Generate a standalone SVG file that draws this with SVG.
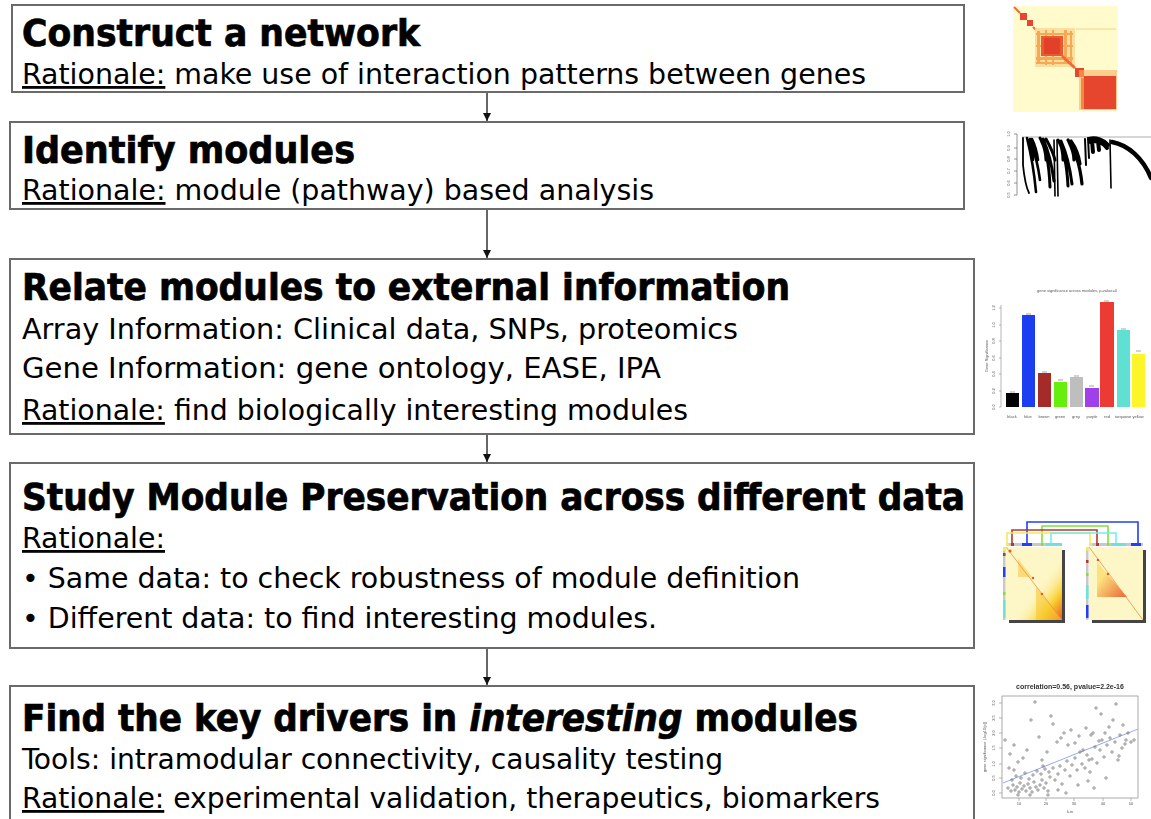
<svg xmlns="http://www.w3.org/2000/svg" width="1151" height="819" viewBox="0 0 1151 819">
  <style>
    .box { fill: #ffffff; stroke: #6a6a6a; stroke-width: 2; }
    .title { font-family: "DejaVu Sans Condensed", "DejaVu Sans", sans-serif; font-weight: bold; font-size: 38px; fill: #000; stroke: #000; stroke-width: 0.7; }
    .body { font-family: "DejaVu Sans Condensed", "DejaVu Sans", sans-serif; font-size: 28px; fill: #000; }
    .ul { text-decoration: underline; }
    .conn { stroke: #333; stroke-width: 1.5; fill: none; }
    .tiny { font-family: "Liberation Sans", Arial, sans-serif; font-size: 4px; fill: #555; stroke: none; }
    .pt { fill: none; stroke: #666; stroke-width: 0.7; }
    .br { fill: none; stroke: #000; stroke-linecap: round; }
  </style>
  <defs>
    <marker id="ah" viewBox="0 0 10 10" refX="10" refY="5" markerWidth="8" markerHeight="8" markerUnits="userSpaceOnUse" orient="auto">
      <path d="M0,0 L10,5 L0,10 Z" fill="#111"/>
    </marker>
    <filter id="soft" x="-5%" y="-5%" width="110%" height="110%">
      <feGaussianBlur stdDeviation="0.6"/>
    </filter>
    <linearGradient id="hmL" x1="0" y1="0" x2="1" y2="1">
      <stop offset="0.55" stop-color="#fdf6c0" stop-opacity="0"/>
      <stop offset="0.8" stop-color="#f9d030"/>
      <stop offset="1" stop-color="#e85a20"/>
    </linearGradient>
    <linearGradient id="hmR" x1="0" y1="0" x2="1" y2="1">
      <stop offset="0.3" stop-color="#fbe070"/>
      <stop offset="1" stop-color="#e84a20"/>
    </linearGradient>
  </defs>

  <!-- arrows between steps -->
  <g id="connectors">
    <line class="conn" x1="487" y1="93" x2="487" y2="121" marker-end="url(#ah)"/>
    <line class="conn" x1="487" y1="210" x2="487" y2="258" marker-end="url(#ah)"/>
    <line class="conn" x1="487" y1="435" x2="487" y2="462" marker-end="url(#ah)"/>
    <line class="conn" x1="487" y1="649" x2="487" y2="685" marker-end="url(#ah)"/>
  </g>

  <g id="step-network">
    <rect class="box" x="12" y="5" width="952" height="87"/>
    <text class="title" x="22" y="46" textLength="398" lengthAdjust="spacingAndGlyphs">Construct a network</text>
    <text class="body" x="22" y="84" textLength="844" lengthAdjust="spacingAndGlyphs"><tspan class="ul">Rationale:</tspan> make use of interaction patterns between genes</text>
  </g>

  <g id="step-modules">
    <rect class="box" x="10" y="122" width="954" height="87"/>
    <text class="title" x="22" y="163" textLength="333" lengthAdjust="spacingAndGlyphs">Identify modules</text>
    <text class="body" x="22" y="200" textLength="632" lengthAdjust="spacingAndGlyphs"><tspan class="ul">Rationale:</tspan> module (pathway) based analysis</text>
  </g>

  <g id="step-external">
    <rect class="box" x="10" y="259" width="964" height="175"/>
    <text class="title" x="22" y="300" textLength="768" lengthAdjust="spacingAndGlyphs">Relate modules to external information</text>
    <text class="body" x="22" y="339" textLength="716" lengthAdjust="spacingAndGlyphs">Array Information: Clinical data, SNPs, proteomics</text>
    <text class="body" x="22" y="378" textLength="639" lengthAdjust="spacingAndGlyphs">Gene Information: gene ontology, EASE, IPA</text>
    <text class="body" x="22" y="420" textLength="666" lengthAdjust="spacingAndGlyphs"><tspan class="ul">Rationale:</tspan> find biologically interesting modules</text>
  </g>

  <g id="step-preservation">
    <rect class="box" x="10" y="463" width="964" height="185"/>
    <text class="title" x="22" y="510" textLength="943" lengthAdjust="spacingAndGlyphs">Study Module Preservation across different data</text>
    <text class="body ul" x="22" y="548" textLength="143" lengthAdjust="spacingAndGlyphs">Rationale:</text>
    <text class="body" x="22" y="588" textLength="778" lengthAdjust="spacingAndGlyphs">• Same data: to check robustness of module definition</text>
    <text class="body" x="22" y="628" textLength="635" lengthAdjust="spacingAndGlyphs">• Different data: to find interesting modules.</text>
  </g>

  <g id="step-drivers">
    <rect class="box" x="10" y="686" width="964" height="150"/>
    <text class="title" x="22" y="731" textLength="836" lengthAdjust="spacingAndGlyphs">Find the key drivers in <tspan font-style="italic">interesting</tspan> modules</text>
    <text class="body" x="22" y="769" textLength="701" lengthAdjust="spacingAndGlyphs">Tools: intramodular connectivity, causality testing</text>
    <text class="body" x="22" y="808" textLength="858" lengthAdjust="spacingAndGlyphs"><tspan class="ul">Rationale:</tspan> experimental validation, therapeutics, biomarkers</text>
  </g>

  <!-- TOM heatmap -->
  <g id="fig-heatmap" filter="url(#soft)">
    <rect x="1013" y="6" width="105" height="106" fill="#fffbcc"/>
    <line x1="1014" y1="7" x2="1020" y2="13" stroke="#ee6a3a" stroke-width="2"/>
    <rect x="1020" y="13" width="7" height="7" fill="#e8452f"/>
    <rect x="1027" y="20" width="6" height="6" fill="#e8452f"/>
    <line x1="1033" y1="27" x2="1036" y2="30" stroke="#ee6a3a" stroke-width="2"/>
    <line x1="1076" y1="29" x2="1116" y2="29" stroke="#f8d090" stroke-width="1"/>
    <rect x="1035" y="28" width="40" height="39" fill="#fbd890" opacity="0.8"/>
    <g fill="#f4a04a" opacity="0.85">
      <rect x="1037" y="31" width="3" height="33"/>
      <rect x="1045" y="30" width="2" height="35"/>
      <rect x="1052" y="30" width="2" height="35"/>
      <rect x="1064" y="30" width="3" height="34"/>
      <rect x="1070" y="31" width="2" height="32"/>
      <rect x="1036" y="33" width="37" height="2"/>
      <rect x="1036" y="45" width="37" height="2"/>
      <rect x="1036" y="57" width="37" height="3"/>
      <rect x="1036" y="62" width="36" height="2"/>
    </g>
    <rect x="1041" y="36" width="22" height="20" fill="#ea5a30"/>
    <rect x="1044" y="38" width="16" height="16" fill="#e3402c"/>
    <line x1="1062" y1="56" x2="1075" y2="68" stroke="#ee6a3a" stroke-width="3"/>
    <rect x="1075" y="68" width="9" height="9" fill="#e8452f"/>
    <rect x="1079" y="70" width="38" height="40" fill="#f7b060" opacity="0.6"/>
    <rect x="1084" y="76" width="32" height="33" fill="#e6452e"/>
    <rect x="1081" y="78" width="3" height="31" fill="#f08a40"/>
  </g>

  <!-- module dendrogram -->
  <g id="fig-dendrogram" filter="url(#soft)">
    <line x1="1017" y1="134" x2="1017" y2="195" stroke="#777" stroke-width="0.8"/>
    <g stroke="#777" stroke-width="0.8">
      <line x1="1014" y1="134" x2="1017" y2="134"/>
      <line x1="1014" y1="148" x2="1017" y2="148"/>
      <line x1="1014" y1="159" x2="1017" y2="159"/>
      <line x1="1014" y1="171" x2="1017" y2="171"/>
      <line x1="1014" y1="183" x2="1017" y2="183"/>
      <line x1="1014" y1="195" x2="1017" y2="195"/>
    </g>
    <text class="tiny" transform="translate(1010,134) rotate(-90)" text-anchor="middle">1.0</text>
    <text class="tiny" transform="translate(1010,148) rotate(-90)" text-anchor="middle">0.9</text>
    <text class="tiny" transform="translate(1010,159) rotate(-90)" text-anchor="middle">0.8</text>
    <text class="tiny" transform="translate(1010,171) rotate(-90)" text-anchor="middle">0.7</text>
    <text class="tiny" transform="translate(1010,183) rotate(-90)" text-anchor="middle">0.6</text>
    <text class="tiny" transform="translate(1010,195) rotate(-90)" text-anchor="middle">0.5</text>
    <line x1="1022" y1="137" x2="1151" y2="137" stroke="#999" stroke-width="0.8"/>
    <path class="br" stroke-width="1.8" d="M1023,138 L1023,165 Q1025,185 1029,193"/>
    <path class="br" stroke-width="2.6" d="M1027,138 C1030,150 1034,170 1036,192 M1030,139 C1034,150 1038,165 1040,180 M1032,139 C1035,145 1037,152 1038,160 M1028,140 C1031,146 1033,152 1033,160"/>
    <path class="br" stroke-width="3" d="M1040,138 C1045,146 1049,160 1050,187 M1043,139 C1048,150 1052,166 1054,181 M1046,139 C1050,146 1053,152 1055,160 M1041,140 C1044,146 1046,152 1046,160"/>
    <path class="br" stroke-width="1.6" d="M1054,140 L1055,196 M1057,140 L1058,196"/>
    <path class="br" stroke-width="3" d="M1058,140 C1064,150 1067,165 1068,186 M1061,141 C1066,152 1070,168 1072,184 M1059,141 C1062,147 1063,153 1063,160"/>
    <path class="br" stroke-width="3.2" d="M1068,140 C1075,150 1080,165 1082,184 M1071,141 C1076,148 1079,156 1080,164 M1069,142 C1072,148 1074,154 1074,160"/>
    <path class="br" stroke-width="2" d="M1085,139 L1086,165 M1088,138 L1089,158"/>
    <path class="br" stroke-width="4" d="M1089,139 C1096,137 1104,140 1108,145 M1090,142 C1097,140 1103,143 1107,148 M1092,141 L1093,152 M1098,141 L1099,150"/>
    <path class="br" stroke-width="1.6" d="M1110,140 L1111,188"/>
    <path class="br" stroke-width="4.5" d="M1112,142 C1128,145 1143,158 1151,178"/>
  </g>

  <!-- gene significance bar chart -->
  <g id="fig-barchart" filter="url(#soft)">
    <text class="tiny" x="1077" y="292" text-anchor="middle" font-size="3.6">gene significance across modules, p-value=0</text>
    <line x1="1001" y1="305" x2="1001" y2="407" stroke="#888" stroke-width="0.6"/>
    <g stroke="#888" stroke-width="0.6">
      <line x1="999" y1="407" x2="1001" y2="407"/>
      <line x1="999" y1="391" x2="1001" y2="391"/>
      <line x1="999" y1="374" x2="1001" y2="374"/>
      <line x1="999" y1="358" x2="1001" y2="358"/>
      <line x1="999" y1="341" x2="1001" y2="341"/>
      <line x1="999" y1="325" x2="1001" y2="325"/>
      <line x1="999" y1="308" x2="1001" y2="308"/>
    </g>
    <text class="tiny" font-size="3" transform="translate(995,407) rotate(-90)" text-anchor="middle">0.0</text>
    <text class="tiny" font-size="3" transform="translate(995,391) rotate(-90)" text-anchor="middle">0.2</text>
    <text class="tiny" font-size="3" transform="translate(995,374) rotate(-90)" text-anchor="middle">0.4</text>
    <text class="tiny" font-size="3" transform="translate(995,358) rotate(-90)" text-anchor="middle">0.6</text>
    <text class="tiny" font-size="3" transform="translate(995,341) rotate(-90)" text-anchor="middle">0.8</text>
    <text class="tiny" font-size="3" transform="translate(995,325) rotate(-90)" text-anchor="middle">1.0</text>
    <text class="tiny" font-size="3" transform="translate(995,308) rotate(-90)" text-anchor="middle">1.2</text>
    <text class="tiny" font-size="3" transform="translate(988,356) rotate(-90)" text-anchor="middle">Gene Significance</text>
    <rect x="1006" y="393" width="13" height="14" fill="#000"/>
    <rect x="1022" y="315" width="13" height="92" fill="#1a3ef0"/>
    <rect x="1038" y="373" width="13" height="34" fill="#a52a2a"/>
    <rect x="1054" y="382" width="13" height="25" fill="#66ee11"/>
    <rect x="1070" y="377" width="13" height="30" fill="#bebebe"/>
    <rect x="1085" y="388" width="14" height="19" fill="#a040e8"/>
    <rect x="1100" y="302" width="14" height="105" fill="#ec3a30"/>
    <rect x="1117" y="330" width="13" height="77" fill="#5ee0d2"/>
    <rect x="1132" y="354" width="13" height="53" fill="#fbf52a"/>
    <g stroke="#444" stroke-width="0.5">
      <line x1="1010" y1="392" x2="1015" y2="392"/>
      <line x1="1026" y1="314" x2="1031" y2="314"/>
      <line x1="1042" y1="372" x2="1047" y2="372"/>
      <line x1="1058" y1="380" x2="1063" y2="380"/>
      <line x1="1074" y1="376" x2="1079" y2="376"/>
      <line x1="1089" y1="386" x2="1094" y2="386"/>
      <line x1="1104" y1="301" x2="1109" y2="301"/>
      <line x1="1121" y1="329" x2="1126" y2="329"/>
      <line x1="1136" y1="351" x2="1141" y2="351"/>
    </g>
    <g class="tiny" font-size="2.6" text-anchor="middle">
      <text x="1012" y="418">black</text>
      <text x="1028" y="418">blue</text>
      <text x="1044" y="418">brown</text>
      <text x="1060" y="418">green</text>
      <text x="1076" y="418">grey</text>
      <text x="1092" y="418">purple</text>
      <text x="1107" y="418">red</text>
      <text x="1123" y="418">turquoise</text>
      <text x="1138" y="418">yellow</text>
    </g>
  </g>

  <!-- module preservation between two data sets -->
  <g id="fig-preservation" filter="url(#soft)">
    <g fill="none" stroke-width="1.6">
      <path d="M1027,544 V522 H1138 V544" stroke="#2040f0"/>
      <path d="M1042,544 V526 H1108 V544" stroke="#80e040"/>
      <path d="M1012,544 V530 H1097 V544" stroke="#b03a30"/>
      <path d="M1007,544 V533 H1090 V544" stroke="#f5e860"/>
      <path d="M1051,544 V533 H1116 V544" stroke="#70f0f0"/>
    </g>
    <!-- left map -->
    <rect x="1009" y="550" width="56" height="73" fill="#444"/>
    <rect x="1006" y="547" width="56" height="73" fill="#fdf6c6"/>
    <rect x="1006" y="547" width="56" height="73" fill="url(#hmL)"/>
    <path d="M1018,559 L1032,577 L1018,577 Z" fill="#fbd25a" opacity="0.7"/>
    <path d="M1036,587 L1062,620 L1036,620 Z" fill="#f9c830" opacity="0.6"/>
    <line x1="1006" y1="547" x2="1062" y2="620" stroke="#f09040" stroke-width="0.8"/>
    <circle cx="1010" cy="551" r="1.5" fill="#e06020"/>
    <circle cx="1033" cy="578" r="1.3" fill="#e06020"/>
    <circle cx="1042" cy="594" r="1.3" fill="#e06020"/>
    <rect x="1006" y="543" width="56" height="3" fill="#c8c8c8"/>
    <rect x="1006" y="543" width="3" height="3" fill="#f5e860"/>
    <rect x="1011" y="543" width="3" height="3" fill="#b03a30"/>
    <rect x="1022" y="543" width="10" height="3" fill="#2040f0"/>
    <rect x="1041" y="543" width="2" height="3" fill="#80e040"/>
    <rect x="1046" y="543" width="16" height="3" fill="#70e0d8"/>
    <rect x="1003" y="547" width="2.5" height="73" fill="#c8c8c8"/>
    <rect x="1003" y="547" width="2.5" height="4" fill="#f5e860"/>
    <rect x="1003" y="553" width="2.5" height="3" fill="#b03a30"/>
    <rect x="1003" y="567" width="2.5" height="10" fill="#2040f0"/>
    <rect x="1003" y="592" width="2.5" height="3" fill="#80e040"/>
    <rect x="1003" y="600" width="2.5" height="18" fill="#70e0d8"/>
    <!-- right map -->
    <rect x="1092" y="550" width="54" height="73" fill="#444"/>
    <rect x="1089" y="547" width="54" height="73" fill="#fdf6c6"/>
    <path d="M1097,562 L1127,597 L1097,597 Z" fill="url(#hmR)" opacity="0.85"/>
    <line x1="1089" y1="547" x2="1143" y2="620" stroke="#f09040" stroke-width="0.8"/>
    <circle cx="1098" cy="560" r="1.3" fill="#e06020"/>
    <circle cx="1108" cy="574" r="1.3" fill="#e06020"/>
    <rect x="1089" y="543" width="54" height="3" fill="#c8c8c8"/>
    <rect x="1089" y="543" width="3" height="3" fill="#f5e860"/>
    <rect x="1096" y="543" width="3" height="3" fill="#b03a30"/>
    <rect x="1107" y="543" width="2" height="3" fill="#80e040"/>
    <rect x="1111" y="543" width="15" height="3" fill="#70e0d8"/>
    <rect x="1131" y="543" width="10" height="3" fill="#2040f0"/>
    <rect x="1086" y="547" width="2.5" height="73" fill="#c8c8c8"/>
    <rect x="1086" y="547" width="2.5" height="4" fill="#f5e860"/>
    <rect x="1086" y="560" width="2.5" height="3" fill="#b03a30"/>
    <rect x="1086" y="573" width="2.5" height="3" fill="#80e040"/>
    <rect x="1086" y="585" width="2.5" height="14" fill="#70e0d8"/>
    <rect x="1086" y="605" width="2.5" height="13" fill="#2040f0"/>
  </g>

  <!-- key driver scatter plot -->
  <g id="fig-scatter" filter="url(#soft)">
    <text x="1070" y="689" text-anchor="middle" font-family="Liberation Sans, Arial, sans-serif" font-weight="bold" font-size="7" fill="#333">correlation=0.56, pvalue=2.2e-16</text>
    <rect x="1002" y="696" width="136" height="102" fill="none" stroke="#888" stroke-width="0.7"/>
    <text class="tiny" transform="translate(986,747) rotate(-90)" text-anchor="middle">gene significance (-log10(p))</text>
    <text class="tiny" x="1070" y="813" text-anchor="middle">k.in</text>
    <g stroke="#888" stroke-width="0.6">
      <line x1="999" y1="793" x2="1002" y2="793"/>
      <line x1="999" y1="778" x2="1002" y2="778"/>
      <line x1="999" y1="764" x2="1002" y2="764"/>
      <line x1="999" y1="748" x2="1002" y2="748"/>
      <line x1="999" y1="733" x2="1002" y2="733"/>
      <line x1="999" y1="718" x2="1002" y2="718"/>
      <line x1="999" y1="703" x2="1002" y2="703"/>
      <line x1="1019" y1="798" x2="1019" y2="801"/>
      <line x1="1046" y1="798" x2="1046" y2="801"/>
      <line x1="1074" y1="798" x2="1074" y2="801"/>
      <line x1="1103" y1="798" x2="1103" y2="801"/>
      <line x1="1131" y1="798" x2="1131" y2="801"/>
    </g>
    <g class="tiny" font-size="3" text-anchor="middle">
      <text transform="translate(995,793) rotate(-90)">0.0</text>
      <text transform="translate(995,778) rotate(-90)">0.5</text>
      <text transform="translate(995,764) rotate(-90)">1.0</text>
      <text transform="translate(995,748) rotate(-90)">1.5</text>
      <text transform="translate(995,733) rotate(-90)">2.0</text>
      <text transform="translate(995,718) rotate(-90)">2.5</text>
      <text transform="translate(995,703) rotate(-90)">3.0</text>
      <text x="1019" y="805">10</text>
      <text x="1046" y="805">20</text>
      <text x="1074" y="805">30</text>
      <text x="1103" y="805">40</text>
      <text x="1131" y="805">50</text>
    </g>
    <line x1="1003" y1="783" x2="1138" y2="729" stroke="#9aa8f0" stroke-width="1"/>
    <g class="pt">
      <circle cx="1008" cy="788" r="1.2"/><circle cx="1011" cy="791" r="1.2"/><circle cx="1013" cy="785" r="1.2"/>
      <circle cx="1015" cy="790" r="1.2"/><circle cx="1017" cy="787" r="1.2"/><circle cx="1019" cy="792" r="1.2"/>
      <circle cx="1020" cy="783" r="1.2"/><circle cx="1022" cy="789" r="1.2"/><circle cx="1024" cy="786" r="1.2"/>
      <circle cx="1026" cy="791" r="1.2"/><circle cx="1028" cy="784" r="1.2"/><circle cx="1030" cy="788" r="1.2"/>
      <circle cx="1032" cy="792" r="1.2"/><circle cx="1034" cy="782" r="1.2"/><circle cx="1036" cy="787" r="1.2"/>
      <circle cx="1038" cy="790" r="1.2"/><circle cx="1040" cy="785" r="1.2"/><circle cx="1042" cy="780" r="1.2"/>
      <circle cx="1044" cy="788" r="1.2"/><circle cx="1046" cy="783" r="1.2"/><circle cx="1048" cy="791" r="1.2"/>
      <circle cx="1050" cy="777" r="1.2"/><circle cx="1012" cy="780" r="1.2"/><circle cx="1016" cy="776" r="1.2"/>
      <circle cx="1021" cy="778" r="1.2"/><circle cx="1025" cy="773" r="1.2"/><circle cx="1029" cy="779" r="1.2"/>
      <circle cx="1033" cy="775" r="1.2"/><circle cx="1037" cy="771" r="1.2"/><circle cx="1041" cy="774" r="1.2"/>
      <circle cx="1045" cy="769" r="1.2"/><circle cx="1049" cy="772" r="1.2"/><circle cx="1053" cy="768" r="1.2"/>
      <circle cx="1055" cy="780" r="1.2"/><circle cx="1058" cy="774" r="1.2"/><circle cx="1060" cy="766" r="1.2"/>
      <circle cx="1062" cy="784" r="1.2"/><circle cx="1065" cy="770" r="1.2"/><circle cx="1067" cy="761" r="1.2"/>
      <circle cx="1070" cy="776" r="1.2"/><circle cx="1072" cy="765" r="1.2"/><circle cx="1075" cy="758" r="1.2"/>
      <circle cx="1077" cy="770" r="1.2"/><circle cx="1080" cy="752" r="1.2"/><circle cx="1082" cy="764" r="1.2"/>
      <circle cx="1085" cy="768" r="1.2"/><circle cx="1087" cy="755" r="1.2"/><circle cx="1090" cy="772" r="1.2"/>
      <circle cx="1092" cy="759" r="1.2"/><circle cx="1095" cy="747" r="1.2"/><circle cx="1097" cy="763" r="1.2"/>
      <circle cx="1100" cy="750" r="1.2"/><circle cx="1102" cy="740" r="1.2"/><circle cx="1104" cy="757" r="1.2"/>
      <circle cx="1107" cy="745" r="1.2"/><circle cx="1110" cy="738" r="1.2"/><circle cx="1112" cy="752" r="1.2"/>
      <circle cx="1115" cy="742" r="1.2"/><circle cx="1118" cy="760" r="1.2"/><circle cx="1120" cy="735" r="1.2"/>
      <circle cx="1122" cy="748" r="1.2"/><circle cx="1125" cy="744" r="1.2"/><circle cx="1128" cy="733" r="1.2"/>
      <circle cx="1131" cy="742" r="1.2"/><circle cx="1134" cy="740" r="1.2"/><circle cx="1005" cy="740" r="1.2"/>
      <circle cx="1010" cy="754" r="1.2"/><circle cx="1014" cy="745" r="1.2"/><circle cx="1018" cy="762" r="1.2"/>
      <circle cx="1023" cy="758" r="1.2"/><circle cx="1027" cy="750" r="1.2"/><circle cx="1031" cy="720" r="1.2"/>
      <circle cx="1035" cy="702" r="1.2"/><circle cx="1039" cy="737" r="1.2"/><circle cx="1043" cy="766" r="1.2"/>
      <circle cx="1047" cy="752" r="1.2"/><circle cx="1051" cy="716" r="1.2"/><circle cx="1053" cy="724" r="1.2"/>
      <circle cx="1057" cy="742" r="1.2"/><circle cx="1061" cy="738" r="1.2"/><circle cx="1064" cy="733" r="1.2"/>
      <circle cx="1068" cy="745" r="1.2"/><circle cx="1071" cy="730" r="1.2"/><circle cx="1075" cy="743" r="1.2"/>
      <circle cx="1079" cy="736" r="1.2"/><circle cx="1083" cy="750" r="1.2"/><circle cx="1086" cy="728" r="1.2"/>
      <circle cx="1089" cy="760" r="1.2"/><circle cx="1091" cy="735" r="1.2"/><circle cx="1093" cy="733" r="1.2"/>
      <circle cx="1096" cy="708" r="1.2"/><circle cx="1099" cy="741" r="1.2"/><circle cx="1101" cy="714" r="1.2"/>
      <circle cx="1105" cy="733" r="1.2"/><circle cx="1109" cy="727" r="1.2"/><circle cx="1113" cy="720" r="1.2"/>
      <circle cx="1116" cy="704" r="1.2"/><circle cx="1119" cy="756" r="1.2"/><circle cx="1123" cy="725" r="1.2"/>
      <circle cx="1126" cy="740" r="1.2"/><circle cx="1030" cy="795" r="1.2"/><circle cx="1048" cy="795" r="1.2"/>
      <circle cx="1058" cy="790" r="1.2"/><circle cx="1066" cy="793" r="1.2"/><circle cx="1078" cy="785" r="1.2"/>
      <circle cx="1088" cy="781" r="1.2"/><circle cx="1094" cy="788" r="1.2"/><circle cx="1106" cy="778" r="1.2"/>
      <circle cx="1014" cy="770" r="1.2"/><circle cx="1018" cy="795" r="1.2"/><circle cx="1009" cy="768" r="1.2"/>
      <circle cx="1042" cy="760" r="1.2"/>
    </g>
  </g>
</svg>
